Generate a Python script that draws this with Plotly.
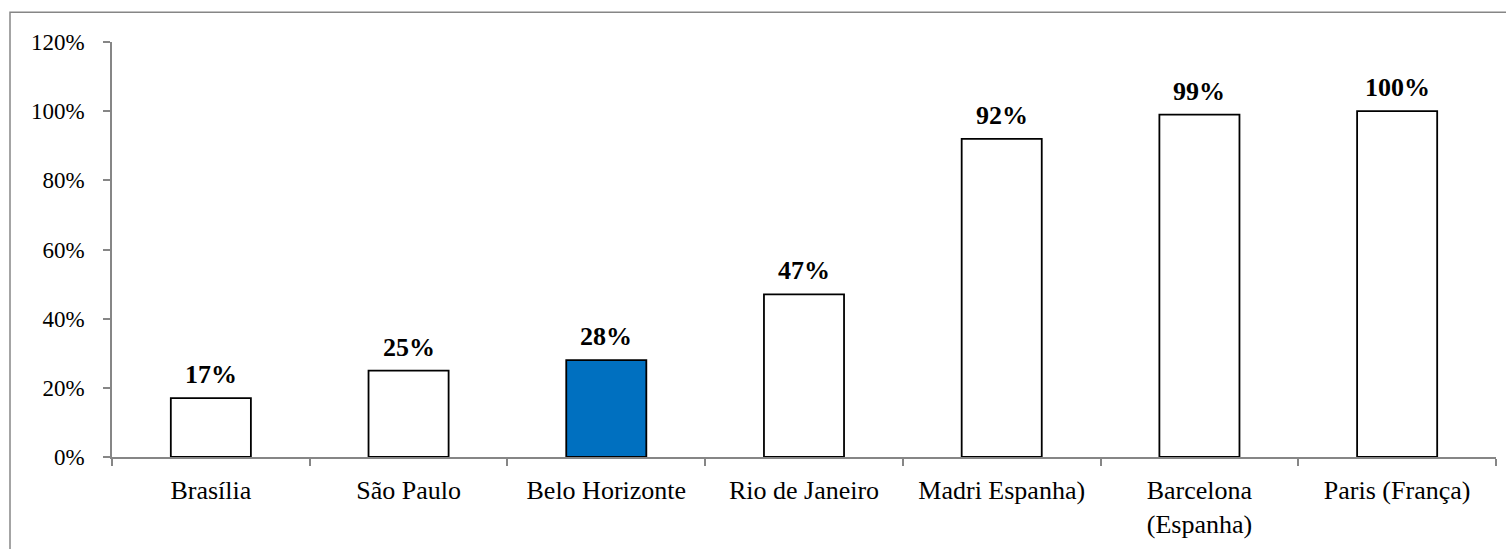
import plotly.graph_objects as go

categories = ["Brasília", "São Paulo", "Belo Horizonte", "Rio de Janeiro",
              "Madri Espanha)", "Barcelona<br>(Espanha)", "Paris (França)"]
values = [0.17, 0.25, 0.28, 0.47, 0.92, 0.99, 1.00]
labels = ["17%", "25%", "28%", "47%", "92%", "99%", "100%"]
highlight = "Belo Horizonte"

colors = ["#0070C0" if c == highlight else "white" for c in categories]

fig = go.Figure(go.Bar(
    x=categories, y=values, width=0.405,
    marker=dict(color=colors, line=dict(color="black", width=1.8)),
    hoverinfo="x+y",
))

for c, v, t in zip(categories, values, labels):
    fig.add_annotation(x=c, y=v, text="<b>" + t + "</b>", showarrow=False,
                       yanchor="bottom", yshift=7,
                       font=dict(family="Liberation Serif", size=26, color="black"))

W, H = 1506, 549
L, R, T, B = 112, 10, 42, 87
pw, ph = W - L - R, H - T - B

fig.update_layout(
    width=W, height=H,
    margin=dict(l=L, r=R, t=T, b=B),
    paper_bgcolor="white", plot_bgcolor="white",
    font=dict(family="Liberation Serif", size=24, color="black"),
    showlegend=False,
    xaxis=dict(showline=True, linecolor="#868686", linewidth=1.5,
               ticks="outside", tickson="boundaries", ticklen=7,
               tickcolor="#868686", tickwidth=1.5, showgrid=False,
               ticklabelstandoff=9,
               tickfont=dict(family="Liberation Serif", size=26, color="black")),
    yaxis=dict(range=[0, 1.2], dtick=0.2, tickformat=".0%",
               showline=True, linecolor="#868686", linewidth=1.5,
               ticks="outside", ticklen=7, tickcolor="#868686", tickwidth=1.5,
               showgrid=False, zeroline=False, ticklabelstandoff=14,
               tickfont=dict(family="Liberation Serif", size=23, color="black")),
    shapes=[dict(type="rect", xref="paper", yref="paper",
                 x0=(10 - L) / pw, x1=1 + (R + 20) / pw,
                 y0=-(B + 20) / ph, y1=1 + (T - 12) / ph,
                 line=dict(color="#868686", width=1.5), fillcolor="rgba(0,0,0,0)",
                 layer="below")],
)

fig.write_html("out.html", config={"displayModeBar": False},
               post_script="document.body.style.margin='0';document.body.style.overflow='hidden';")
